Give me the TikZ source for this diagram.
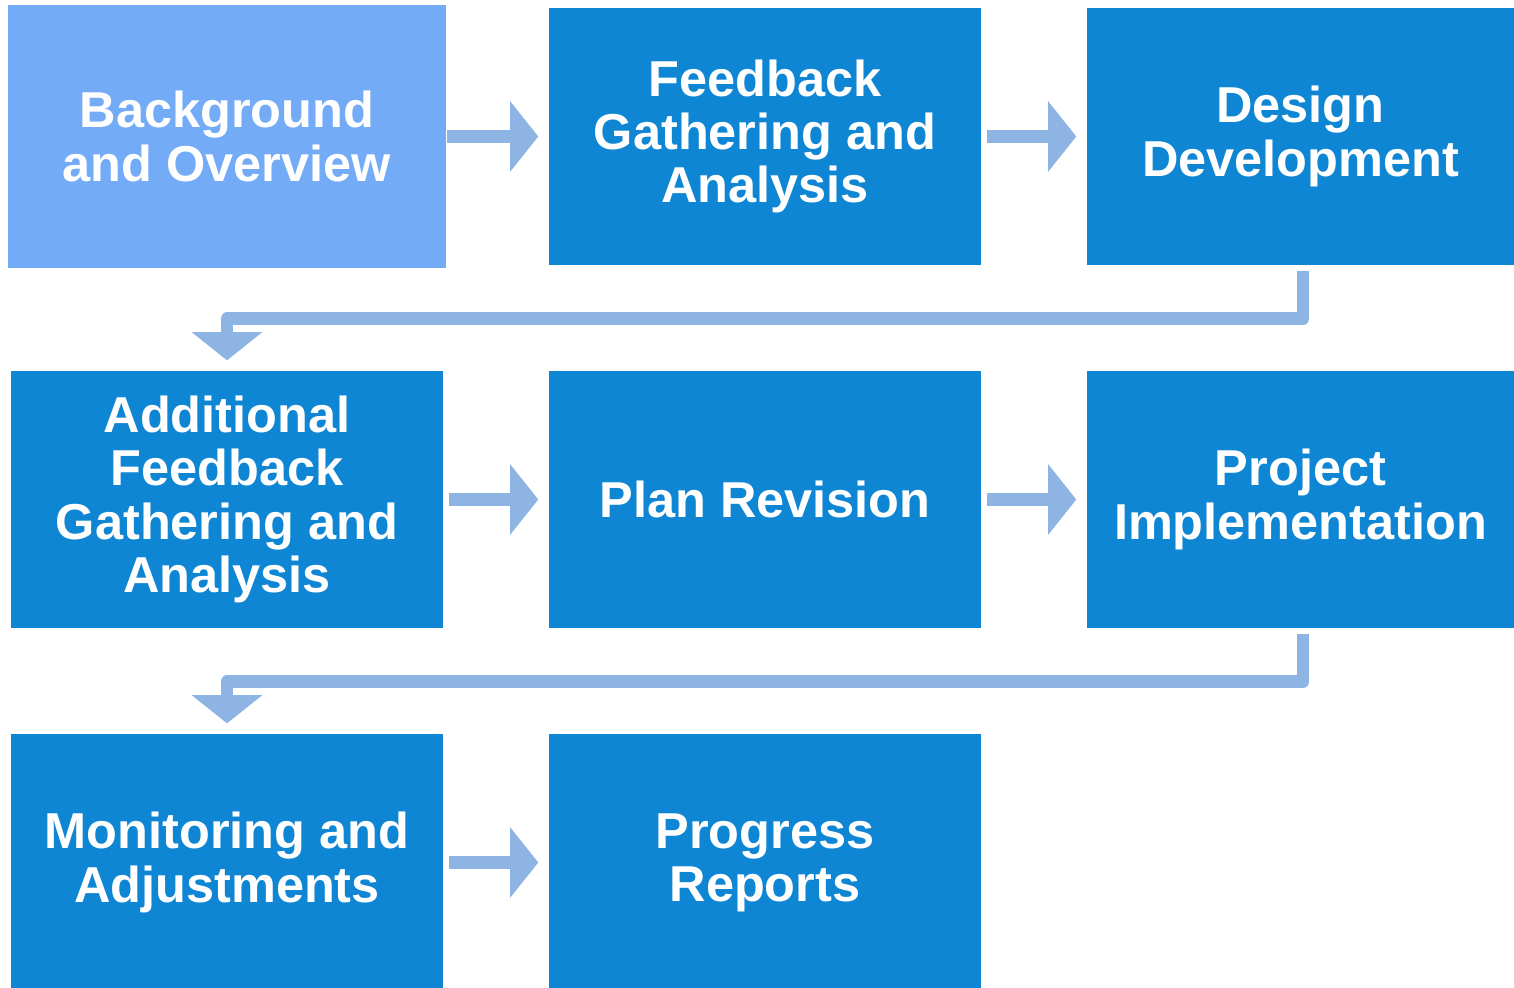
\documentclass[tikz,border=0pt]{standalone}
\usepackage{fontspec}
\setmainfont{Liberation Sans}
\usetikzlibrary{arrows.meta}

\definecolor{lightbox}{RGB}{115,171,247}
\definecolor{darkbox}{RGB}{14,134,212}
\definecolor{flow}{RGB}{142,180,227}

\tikzset{
	box/.style={fill=darkbox, text=white, inner sep=0pt, align=center,
		minimum width=4.32cm, minimum height=2.57cm,
		font=\fontsize{14.35pt}{15.1pt}\selectfont\bfseries},
	flowarrow/.style={draw=flow, line width=3.6pt, line join=round,
		-{Triangle[length=8pt,width=19.6pt]},
		shorten <=1.5pt, shorten >=2.8pt},
}

\begin{document}
\begin{tikzpicture}[x=0.01cm,y=-0.01cm]
\useasboundingbox (0,0) rectangle (1514,988);

\node[box, fill=lightbox, minimum width=4.38cm, minimum height=2.63cm](1) at(227,136.5) {Background\\and Overview};
\node[box](2) at(765,136.5) {Feedback\\Gathering and\\Analysis};
\node[box, minimum width=4.27cm](3) at(1300.5,136.5) {Design\\Development};

\node[box](4) at(227,499.5) {Additional\\Feedback\\Gathering and\\Analysis};
\node[box](5) at(765,499.5) {Plan Revision};
\node[box, minimum width=4.27cm](6) at(1300.5,499.5) {Project\\Implementation};

\node[box](7) at(227,862.5) {Monitoring and\\Adjustments};
\node[box](8) at(765,862.5) {Progress\\Reports};

\draw[flowarrow, shorten <=0pt] (1) -- (2);
\foreach \u \v in {
	2/3%
	,4/5,5/6%
	,7/8%
}{
	\draw[flowarrow] (\u) -- (\v);
}

\draw[flowarrow] ([xshift=0.025cm]3.south) -- ++(0,53) -| (4.north);
\draw[flowarrow] ([xshift=0.025cm]6.south) -- ++(0,53) -| (7.north);

\end{tikzpicture}
\end{document}
